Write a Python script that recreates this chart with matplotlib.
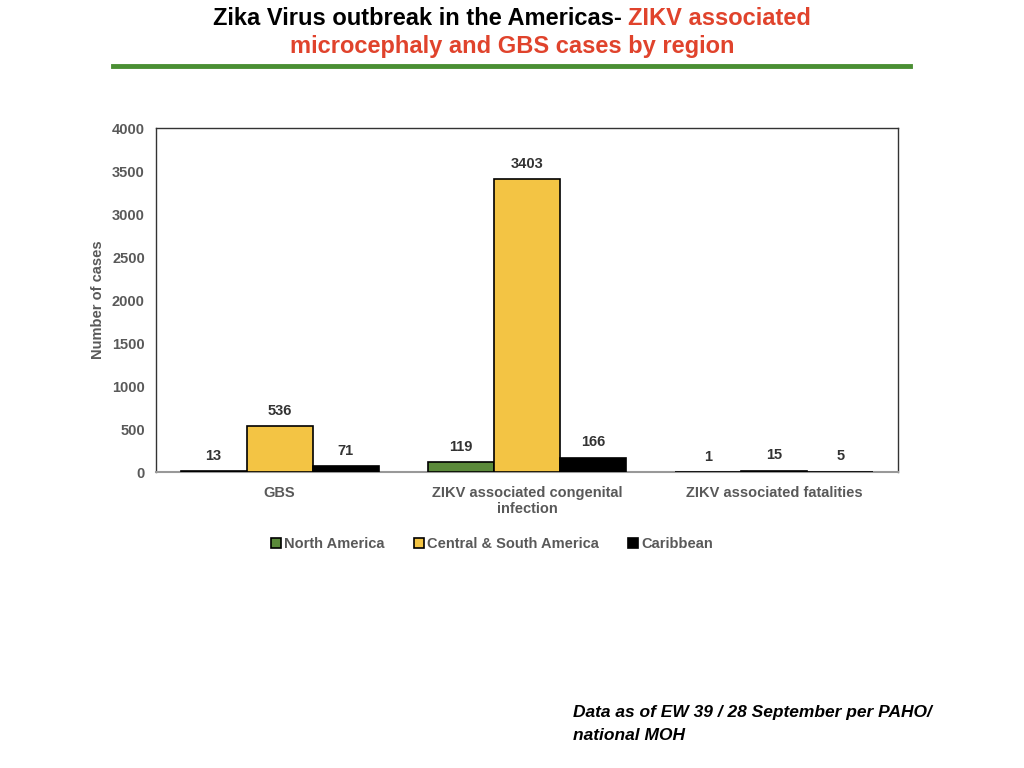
import matplotlib.pyplot as plt
import numpy as np
from matplotlib import font_manager

categories = ["GBS", "ZIKV associated congenital\ninfection", "ZIKV associated fatalities"]
regions = ["North America", "Central & South America", "Caribbean"]
north_america = [13, 119, 1]
central_south = [536, 3403, 15]
caribbean = [71, 166, 5]

colors = ["#5b8a3a", "#f3c444", "#000000"]
gray = "#595959"

names = {f.name for f in font_manager.fontManager.ttflist}
title_font = "Liberation Sans Narrow" if "Liberation Sans Narrow" in names else "Liberation Sans"
plt.rcParams["font.family"] = ["Liberation Sans", "DejaVu Sans"]

fig = plt.figure(figsize=(10.24, 7.68), dpi=100)
ax = fig.add_axes([0.1523, 0.3854, 0.7246, 0.4479])

x = np.arange(len(categories))
w = 0.267
for i, (vals, c) in enumerate(zip([north_america, central_south, caribbean], colors)):
    pos = x + (i - 1) * w
    bars = ax.bar(pos, vals, width=w, color=c, edgecolor="black", linewidth=1.2,
                  label=regions[i], zorder=3)
    for b, v in zip(bars, vals):
        ax.annotate(str(v), (b.get_x() + b.get_width() / 2, v), xytext=(0, 11),
                    textcoords="offset points", ha="center", va="center",
                    fontsize=10.5, fontweight="bold", color="#333333")

ax.set_xlim(-0.5, 2.5)
ax.set_ylim(0, 4000)
ax.set_yticks(range(0, 4001, 500))
ax.set_xticks(x)
ax.set_xticklabels(categories)
ax.tick_params(length=0, labelsize=10.5, colors=gray, pad=8)
ax.tick_params(axis="x", pad=10)
for lbl in ax.get_xticklabels() + ax.get_yticklabels():
    lbl.set_fontweight("bold")
ax.set_ylabel("Number of cases", fontsize=10.5, color=gray, fontweight="bold", labelpad=5)
for s in ["left", "top", "right"]:
    ax.spines[s].set_color("#333333")
    ax.spines[s].set_linewidth(1.0)
ax.spines["bottom"].set_color("#999999")
ax.spines["bottom"].set_linewidth(1.5)

leg = ax.legend(loc="upper center", bbox_to_anchor=(0.453, -0.152), ncol=3, frameon=False,
                fontsize=10.5, handlelength=0.7, handleheight=0.7, handletextpad=0.2,
                columnspacing=2.0)
for t in leg.get_texts():
    t.set_color(gray)
    t.set_fontweight("bold")

# title, two colours on the first line
red = "#e0432c"
fig.canvas.draw()
r = fig.canvas.get_renderer()
t1 = fig.text(0, 0.976, "Zika Virus outbreak in the Americas- ", fontsize=17, fontweight="bold",
              family=title_font, color="black", va="center")
t2 = fig.text(0, 0.976, "ZIKV associated", fontsize=17, fontweight="bold",
              family=title_font, color=red, va="center")
w1 = t1.get_window_extent(r).width / 1024
w2 = t2.get_window_extent(r).width / 1024
start = 0.5 - (w1 + w2) / 2
t1.set_x(start)
t2.set_x(start + w1)
fig.text(0.5, 0.940, "microcephaly and GBS cases by region", fontsize=17, fontweight="bold",
         family=title_font, color=red, ha="center", va="center")
fig.add_artist(plt.Line2D([113 / 1024, 910 / 1024], [1 - 66 / 768] * 2, color="#4a8f33", linewidth=3.5))

fig.text(573 / 1024, 1 - 713 / 768, "Data as of EW 39 / 28 September per PAHO/", fontsize=12.5,
         fontweight="bold", style="italic", color="black", va="center")
fig.text(573 / 1024, 1 - 736 / 768, "national MOH", fontsize=12.5,
         fontweight="bold", style="italic", color="black", va="center")

fig.savefig("out.png", dpi=100)
